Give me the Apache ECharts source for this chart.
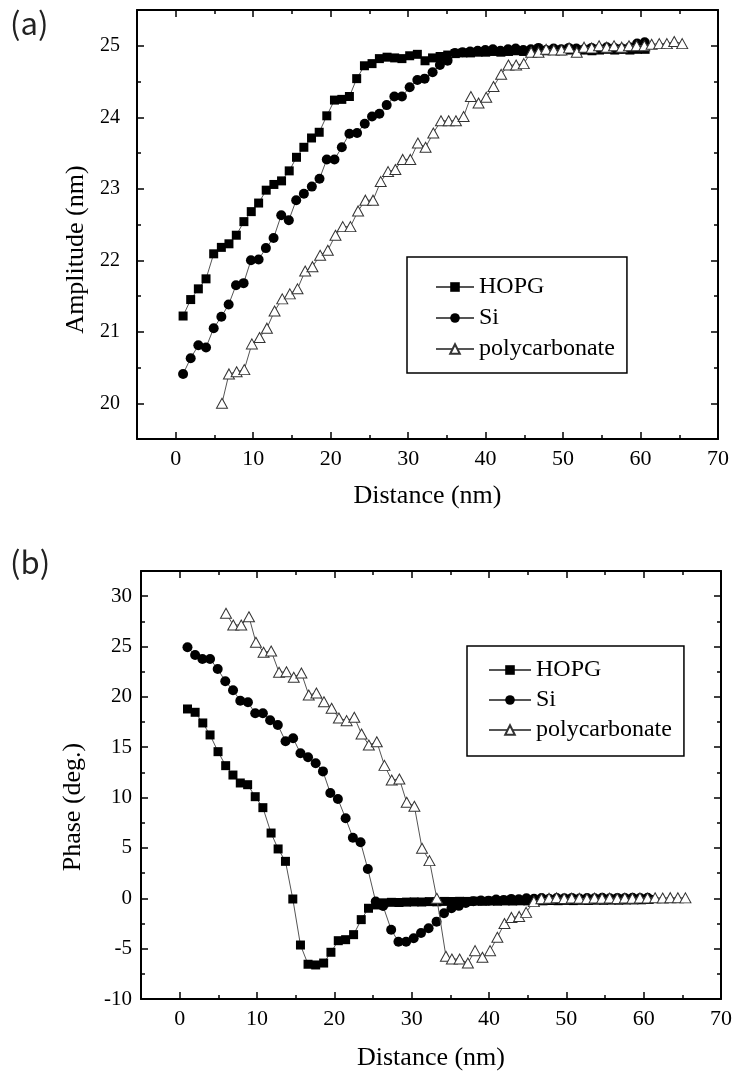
<!DOCTYPE html>
<html><head><meta charset="utf-8">
<script src="https://cdn.jsdelivr.net/npm/echarts@6/dist/echarts.min.js"></script>
<style>html,body{margin:0;padding:0;background:#fff}#c{width:736px;height:1076px}</style>
</head><body><div id="c"></div>
<script>
// ---------- data ----------
const seriesNames = ['HOPG', 'Si', 'polycarbonate'];
const panelLabels = ['(a)', '(b)'];
const xName = 'Distance (nm)';
const ampName = 'Amplitude (nm)';
const phaseName = 'Phase (deg.)';
const xMajorTicks = [0, 10, 20, 30, 40, 50, 60, 70];
const xMinorTicks = [5, 15, 25, 35, 45, 55, 65];
const ampMajorTicks = [20, 21, 22, 23, 24, 25];
const ampMinorTicks = [20.5, 21.5, 22.5, 23.5, 24.5];
const phaseMajorTicks = [-10, -5, 0, 5, 10, 15, 20, 25, 30];
const phaseMinorTicks = [-7.5, -2.5, 2.5, 7.5, 12.5, 17.5, 22.5, 27.5];

const hopgAmplitude = [[0.95,21.22],[1.93,21.45],[2.92,21.60],[3.91,21.74],[4.9,22.09],[5.89,22.18],[6.87,22.23],[7.82,22.35],[8.8,22.54],[9.75,22.68],[10.7,22.80],[11.68,22.98],[12.67,23.06],[13.66,23.11],[14.65,23.25],[15.59,23.44],[16.54,23.58],[17.53,23.71],[18.52,23.79],[19.5,24.02],[20.49,24.24],[21.44,24.25],[22.42,24.29],[23.36,24.54],[24.36,24.72],[25.34,24.75],[26.29,24.82],[27.28,24.84],[28.26,24.83],[29.2,24.82],[30.2,24.86],[31.19,24.88],[32.18,24.79],[33.15,24.83],[34.13,24.85],[35.11,24.87],[36.09,24.89],[37.07,24.9],[38.05,24.9],[39.03,24.91],[40.01,24.91],[40.99,24.92],[41.97,24.91],[42.95,24.92],[43.93,24.93],[44.91,24.92],[45.89,24.93],[46.87,24.92],[47.85,24.93],[48.83,24.94],[49.81,24.93],[50.79,24.94],[51.77,24.93],[52.75,24.94],[53.73,24.93],[54.71,24.94],[55.69,24.95],[56.67,24.94],[57.65,24.95],[58.63,24.94],[59.61,24.95],[60.59,24.95]];
const siAmplitude = [[0.95,20.41],[1.93,20.63],[2.92,20.81],[3.91,20.78],[4.9,21.05],[5.89,21.21],[6.83,21.38],[7.78,21.65],[8.76,21.68],[9.71,22.0],[10.7,22.01],[11.64,22.17],[12.63,22.31],[13.62,22.63],[14.6,22.56],[15.55,22.84],[16.54,22.93],[17.57,23.03],[18.56,23.14],[19.5,23.41],[20.49,23.41],[21.44,23.58],[22.42,23.77],[23.41,23.78],[24.4,23.91],[25.34,24.01],[26.29,24.05],[27.23,24.17],[28.22,24.29],[29.2,24.29],[30.2,24.42],[31.19,24.52],[32.13,24.54],[33.16,24.63],[34.1,24.73],[35.09,24.79],[36.04,24.9],[37.02,24.91],[38.0,24.92],[38.98,24.93],[39.96,24.94],[40.94,24.95],[41.92,24.93],[42.9,24.95],[43.88,24.96],[44.86,24.94],[45.84,24.95],[46.82,24.97],[47.8,24.94],[48.78,24.96],[49.76,24.95],[50.74,24.97],[51.72,24.96],[52.7,24.95],[53.68,24.97],[54.66,24.96],[55.64,24.98],[56.62,24.97],[57.6,24.96],[58.58,24.98],[59.56,25.03],[60.54,25.05]];
const polyAmplitude = [[5.97,20.0],[6.87,20.41],[7.86,20.44],[8.85,20.47],[9.83,20.83],[10.82,20.92],[11.77,21.05],[12.76,21.29],[13.75,21.46],[14.73,21.53],[15.72,21.6],[16.71,21.85],[17.65,21.91],[18.64,22.07],[19.63,22.14],[20.62,22.35],[21.56,22.47],[22.55,22.47],[23.54,22.69],[24.48,22.84],[25.47,22.84],[26.46,23.1],[27.41,23.24],[28.35,23.27],[29.3,23.41],[30.28,23.41],[31.26,23.64],[32.25,23.58],[33.25,23.78],[34.24,23.95],[35.23,23.95],[36.17,23.95],[37.16,24.01],[38.1,24.29],[39.09,24.2],[40.08,24.28],[41.02,24.43],[42.01,24.6],[42.95,24.73],[43.94,24.73],[44.93,24.75],[45.88,24.91],[46.83,24.91],[47.81,24.95],[48.8,24.94],[49.79,24.94],[50.78,24.97],[51.77,24.91],[52.71,24.98],[53.7,24.97],[54.65,25.0],[55.64,24.98],[56.58,25.0],[57.57,24.98],[58.51,25.0],[59.5,25.0],[60.49,25.0],[61.43,25.02],[62.42,25.03],[63.4,25.03],[64.35,25.06],[65.38,25.03]];

const hopgPhase = [[1.01,18.8],[2.0,18.47],[2.99,17.41],[3.93,16.22],[4.96,14.56],[5.95,13.17],[6.89,12.24],[7.84,11.45],[8.79,11.28],[9.77,10.09],[10.76,9.0],[11.82,6.48],[12.73,4.9],[13.68,3.67],[14.63,-0.07],[15.62,-4.64],[16.6,-6.55],[17.59,-6.62],[18.62,-6.43],[19.56,-5.36],[20.51,-4.21],[21.46,-4.11],[22.49,-3.61],[23.48,-2.12],[24.42,-0.99],[25.41,-0.66],[26.4,-0.45],[27.38,-0.4],[28.36,-0.42],[29.34,-0.38],[30.32,-0.36],[31.3,-0.37],[32.28,-0.33],[33.26,-0.35],[34.24,-0.31],[35.22,-0.32],[36.2,-0.3],[37.18,-0.31],[38.16,-0.28],[39.14,-0.3],[40.12,-0.27],[41.1,-0.29],[42.08,-0.26],[43.06,-0.27],[44.04,-0.25],[45.02,-0.26],[46.0,-0.24],[46.98,-0.25],[47.96,-0.22],[48.94,-0.24],[49.92,-0.21],[50.9,-0.23],[51.88,-0.2],[52.86,-0.22],[53.84,-0.19],[54.82,-0.2],[55.8,-0.18],[56.78,-0.19],[57.76,-0.17],[58.74,-0.16],[59.72,-0.15],[60.7,-0.12]];
const siPhase = [[1.01,24.93],[2.0,24.16],[2.94,23.76],[3.93,23.76],[4.92,22.77],[5.9,21.55],[6.9,20.66],[7.84,19.62],[8.83,19.46],[9.77,18.37],[10.76,18.37],[11.7,17.68],[12.69,17.21],[13.69,15.59],[14.67,15.89],[15.62,14.4],[16.6,14.0],[17.59,13.41],[18.53,12.6],[19.48,10.46],[20.46,9.86],[21.46,7.94],[22.4,6.02],[23.39,5.56],[24.33,2.91],[25.35,-0.33],[26.3,-0.77],[27.35,-3.12],[28.29,-4.31],[29.28,-4.31],[30.26,-3.97],[31.21,-3.45],[32.19,-2.98],[33.22,-2.32],[34.18,-1.49],[35.15,-0.99],[36.1,-0.75],[37.0,-0.47],[37.98,-0.3],[38.96,-0.22],[39.94,-0.25],[40.92,-0.12],[41.9,-0.16],[42.88,-0.06],[43.86,-0.1],[44.84,0.0],[45.82,-0.05],[46.8,0.02],[47.78,-0.04],[48.76,0.03],[49.74,0.0],[50.72,0.04],[51.7,-0.02],[52.68,0.03],[53.66,0.01],[54.64,0.05],[55.62,0.0],[56.6,0.04],[57.58,0.02],[58.56,0.05],[59.54,0.03],[60.52,0.06]];
const polyPhase = [[5.99,28.3],[6.93,27.14],[7.96,27.14],[8.96,27.96],[9.86,25.42],[10.85,24.43],[11.83,24.56],[12.85,22.44],[13.81,22.5],[14.75,21.95],[15.74,22.37],[16.69,20.19],[17.68,20.39],[18.66,19.52],[19.65,18.87],[20.59,17.9],[21.59,17.64],[22.58,17.97],[23.52,16.32],[24.46,15.22],[25.49,15.55],[26.48,13.2],[27.42,11.75],[28.41,11.85],[29.36,9.53],[30.35,9.14],[31.34,4.97],[32.3,3.74],[33.25,0.0],[34.43,-5.76],[35.2,-6.03],[36.2,-6.03],[37.27,-6.43],[38.2,-5.2],[39.15,-5.86],[40.14,-5.2],[41.08,-3.87],[42.0,-2.5],[42.9,-1.9],[43.9,-1.8],[44.8,-1.4],[45.8,-0.33],[46.78,-0.05],[47.76,0.0],[48.74,0.05],[49.72,-0.03],[50.7,0.02],[51.68,0.0],[52.66,-0.04],[53.64,0.03],[54.62,0.0],[55.6,0.02],[56.58,-0.02],[57.56,0.03],[58.54,0.0],[59.52,0.04],[60.5,0.02],[61.48,0.05],[62.46,0.03],[63.44,0.06],[64.42,0.05],[65.4,0.04]];

// ---------- styling helpers ----------
const SERIF = 'Liberation Serif';
function axis(gridIndex, min, max, position, ticks, len, line, extra) {
  return Object.assign({
    type: 'value', gridIndex, min, max, position,
    axisLine: { show: line, onZero: false, lineStyle: { color: '#000', width: 2 } },
    axisTick: { show: true, inside: true, length: len, customValues: ticks, lineStyle: { color: '#000', width: 1.5 } },
    axisLabel: { show: false },
    splitLine: { show: false }
  }, extra || {});
}
function labels(values, size, margin) {
  return { show: true, customValues: values, fontFamily: SERIF, fontSize: size, color: '#000', margin };
}
function nameStyle(extra) {
  return Object.assign({ fontFamily: SERIF, fontSize: 26, color: '#000' }, extra || {});
}

const xAxes = [
  // grid 0
  axis(0, -5, 70, 'bottom', xMajorTicks, 7, true, {
    axisLabel: labels(xMajorTicks, 22, 9),
    name: xName, nameLocation: 'middle', nameGap: 44, nameTextStyle: nameStyle()
  }),
  axis(0, -5, 70, 'top', xMajorTicks, 7, true),
  axis(0, -5, 70, 'bottom', xMinorTicks, 4, false),
  axis(0, -5, 70, 'top', xMinorTicks, 4, false),
  // grid 1
  axis(1, -5, 70, 'bottom', xMajorTicks, 7, true, {
    axisLabel: labels(xMajorTicks, 22, 9),
    name: xName, nameLocation: 'middle', nameGap: 46, nameTextStyle: nameStyle()
  }),
  axis(1, -5, 70, 'top', xMajorTicks, 7, true),
  axis(1, -5, 70, 'bottom', xMinorTicks, 4, false),
  axis(1, -5, 70, 'top', xMinorTicks, 4, false)
];
const yAxes = [
  axis(0, 19.5, 25.5, 'left', ampMajorTicks, 7, true, {
    axisLabel: labels(ampMajorTicks, 20, 17),
    name: ampName, nameLocation: 'middle', nameRotate: 90, nameGap: 46,
    nameTextStyle: nameStyle({ padding: [0, 50, 0, 0] })
  }),
  axis(0, 19.5, 25.5, 'right', ampMajorTicks, 7, true),
  axis(0, 19.5, 25.5, 'left', ampMinorTicks, 4, false),
  axis(0, 19.5, 25.5, 'right', ampMinorTicks, 4, false),
  axis(1, -10, 32.5, 'left', phaseMajorTicks, 7, true, {
    axisLabel: labels(phaseMajorTicks, 21, 9),
    name: phaseName, nameLocation: 'middle', nameRotate: 90, nameGap: 55,
    nameTextStyle: nameStyle({ padding: [0, 44, 0, 0] })
  }),
  axis(1, -10, 32.5, 'right', phaseMajorTicks, 7, true),
  axis(1, -10, 32.5, 'left', phaseMinorTicks, 4, false),
  axis(1, -10, 32.5, 'right', phaseMinorTicks, 4, false)
];

const markerStyles = [
  { symbol: 'rect', symbolSize: 9, itemStyle: { color: '#000' } },
  { symbol: 'circle', symbolSize: 10, itemStyle: { color: '#000' } },
  { symbol: 'triangle', symbolSize: [11, 10], itemStyle: { color: '#fff', borderColor: '#333', borderWidth: 1 } }
];
function line(name, idx, data, gridIdx) {
  const m = markerStyles[idx];
  return {
    type: 'line', name, data,
    xAxisIndex: gridIdx * 4, yAxisIndex: gridIdx * 4,
    symbol: m.symbol, symbolSize: m.symbolSize, itemStyle: m.itemStyle,
    showAllSymbol: true,
    lineStyle: { color: '#555', width: 1 },
    emphasis: { disabled: true },
    z: 2 + idx
  };
}
const legendText = { fontFamily: SERIF, fontSize: 24, color: '#000', lineHeight: 24 };
const legendBase = {
  data: seriesNames, orient: 'vertical', selectedMode: false,
  itemWidth: 38, itemHeight: 12, borderColor: '#000', borderWidth: 1.5, borderRadius: 0,
  backgroundColor: '#fff', textStyle: legendText
};

const option = {
  animation: false,
  backgroundColor: '#fff',
  title: [
    { text: panelLabels[0], left: 5, top: 3, textStyle: { fontFamily: 'Noto Sans CJK KR', fontWeight: 'normal', fontSize: 31, color: '#222' } },
    { text: panelLabels[1], left: 5, top: 542, textStyle: { fontFamily: 'Noto Sans CJK KR', fontWeight: 'normal', fontSize: 31, color: '#222' } }
  ],
  grid: [
    { left: 137, top: 10, width: 581, height: 429 },
    { left: 141, top: 571, width: 580, height: 428 }
  ],
  legend: [
    Object.assign({}, legendBase, { left: 407, top: 257, itemGap: 7, padding: [18, 12, 12, 28] }),
    Object.assign({}, legendBase, { left: 467, top: 646, itemWidth: 42, itemGap: 6, padding: [12, 12, 14, 21] })
  ],
  xAxis: xAxes,
  yAxis: yAxes,
  series: [
    line(seriesNames[0], 0, hopgAmplitude, 0),
    line(seriesNames[1], 1, siAmplitude, 0),
    line(seriesNames[2], 2, polyAmplitude, 0),
    line(seriesNames[0], 0, hopgPhase, 1),
    line(seriesNames[1], 1, siPhase, 1),
    line(seriesNames[2], 2, polyPhase, 1)
  ]
};
const chart = echarts.init(document.getElementById('c'), null, { renderer: 'canvas' });
chart.setOption(option);
</script>
</body></html>
